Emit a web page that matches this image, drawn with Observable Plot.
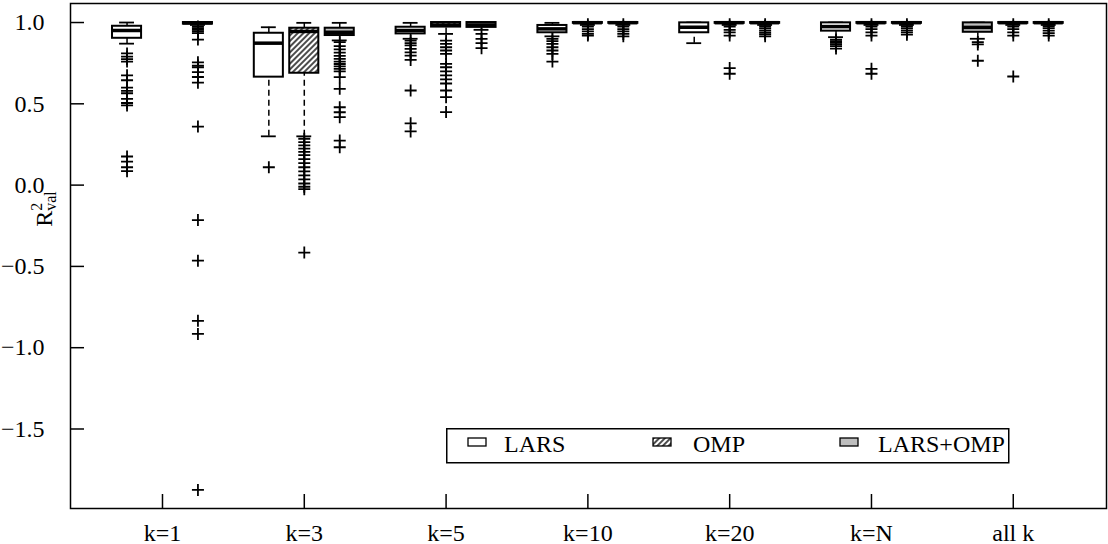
<!DOCTYPE html>
<html><head><meta charset="utf-8">
<script src="https://cdn.jsdelivr.net/npm/d3@7"></script>
<script src="https://cdn.jsdelivr.net/npm/@observablehq/plot@0.6"></script>
<style>
html,body{margin:0;padding:0;background:#fff;}
#wrap{position:relative;width:1108px;height:544px;font-family:'Liberation Serif','Times New Roman',serif;}
#wrap svg, #wrap svg text, #wrap svg tspan{font-family:'Liberation Serif','Times New Roman',serif !important;}
#legend{position:absolute;left:446px;top:428px;}
</style></head><body>
<svg width="0" height="0" style="position:absolute">
<defs><pattern id="hatch" patternUnits="userSpaceOnUse" width="4" height="4" patternTransform="rotate(45)">
<rect width="4" height="4" fill="white"/><line x1="2" y1="0" x2="2" y2="4" stroke="black" stroke-width="1.4"/></pattern></defs></svg>
<div id="wrap"></div>
<script>
// ---- data ----
const groups = ["k=1","k=3","k=5","k=10","k=20","k=N","all k"];
const methods = ["LARS","OMP","LARS+OMP"];
const yTicks = [1.0, 0.5, 0.0, -0.5, -1.0, -1.5];

const boxGroup  = ["k=1","k=1","k=3","k=3","k=3","k=5","k=5","k=5","k=10","k=10","k=10","k=20","k=20","k=20","k=N","k=N","k=N","all k","all k","all k"];
const boxMethod = ["LARS","LARS+OMP","LARS","OMP","LARS+OMP","LARS","OMP","LARS+OMP","LARS","OMP","LARS+OMP","LARS","OMP","LARS+OMP","LARS","OMP","LARS+OMP","LARS","OMP","LARS+OMP"];
const wLow   = [0.870,0.985,0.300,0.300,0.890,0.900,0.930,0.955,0.915,0.985,0.985,0.873,0.985,0.985,0.910,0.985,0.985,0.900,0.985,0.985];
const q1     = [0.903,0.990,0.664,0.688,0.920,0.930,0.972,0.970,0.937,0.995,0.995,0.937,0.995,0.995,0.947,0.995,0.995,0.940,0.995,0.995];
const median = [0.951,0.998,0.873,0.945,0.940,0.951,0.985,0.985,0.961,0.999,0.999,0.971,0.999,0.999,0.975,0.999,0.999,0.970,0.999,0.999];
const q3     = [0.977,1.000,0.934,0.965,0.965,0.971,1.000,1.000,0.982,1.000,1.000,0.998,1.000,1.000,0.998,1.000,1.000,0.998,1.000,1.000];
const wHigh  = [1.000,1.000,0.971,0.998,0.998,0.998,1.000,1.000,0.998,1.000,1.000,1.000,1.000,1.000,1.000,1.000,1.000,1.000,1.000,1.000];
const outliers = [
  [0.81,0.79,0.775,0.76,0.675,0.645,0.60,0.58,0.565,0.53,0.505,0.49,0.176,0.145,0.11,0.086],
  [0.975,0.965,0.955,0.945,0.935,0.895,0.755,0.735,0.725,0.695,0.665,0.63,0.36,-0.215,-0.465,-0.835,-0.915,-1.875],
  [0.11],
  [0.285,0.265,0.245,0.225,0.205,0.185,0.16,0.135,0.11,0.085,0.06,0.035,0.01,-0.01,-0.025,-0.415],
  [0.879,0.855,0.835,0.815,0.795,0.776,0.76,0.745,0.73,0.715,0.70,0.664,0.592,0.479,0.448,0.418,0.274,0.233],
  [0.889,0.873,0.859,0.838,0.817,0.797,0.77,0.582,0.38,0.33],
  [0.889,0.869,0.848,0.828,0.807,0.746,0.725,0.70,0.675,0.65,0.625,0.582,0.541,0.449],
  [0.93,0.90,0.873,0.842],
  [0.90,0.885,0.869,0.848,0.828,0.807,0.76],
  [0.99,0.975,0.96,0.945,0.93,0.92],
  [0.99,0.975,0.96,0.945,0.93,0.915],
  [],
  [0.99,0.975,0.955,0.94,0.92,0.72,0.685],
  [0.99,0.978,0.965,0.952,0.94,0.928,0.915],
  [0.895,0.885,0.875,0.865,0.855,0.84],
  [0.99,0.975,0.96,0.94,0.92,0.715,0.685],
  [0.99,0.978,0.965,0.952,0.94,0.925],
  [0.88,0.865,0.765],
  [0.99,0.975,0.96,0.94,0.92,0.668],
  [0.99,0.978,0.965,0.95,0.935,0.92]
];

// ---- build tables ----
const boxes = boxGroup.map((g, i) => ({
  group: g, method: boxMethod[i],
  pos: 4 * groups.indexOf(g) + methods.indexOf(boxMethod[i]) + 1,
  wLow: wLow[i], q1: q1[i], median: median[i], q3: q3[i], wHigh: wHigh[i]
}));
const outlierRows = boxes.flatMap((b, i) => outliers[i].map(v => ({pos: b.pos, value: v})));
const groupCenters = groups.map((g, i) => 4 * i + 2);

const fillKey = d => d.method === "OMP" ? "hatch" : (d.method === "LARS+OMP" || d.group === "all k") ? "gray" : "white";

const W = 1108, H = 544, mL = 70, mR = 2, mT = 3, mB = 36;
const hw = 0.41, cw = 0.21;
const FONT = "'Liberation Serif','Times New Roman',serif";

const plusSymbol = {
  draw(ctx, size) {
    const a = Math.sqrt(size / Math.PI);
    ctx.moveTo(-a, 0); ctx.lineTo(a, 0);
    ctx.moveTo(0, -a); ctx.lineTo(0, a);
  }
};

const boxRect = (key, fill) => Plot.rect(boxes, {
  filter: d => fillKey(d) === key,
  x1: d => d.pos - hw, x2: d => d.pos + hw, y1: "q1", y2: "q3",
  fill, stroke: "black", strokeWidth: 2
});

const svg = Plot.plot({
  width: W, height: H,
  marginLeft: mL, marginRight: mR, marginTop: mT, marginBottom: mB,
  style: {fontFamily: FONT, fontSize: "24px", background: "white", color: "black", overflow: "visible"},
  x: {domain: [-0.595, 28.63]},
  y: {domain: [-1.989, 1.117]},
  marks: [
    Plot.ruleX(boxes, {x: "pos", y1: "q3", y2: "wHigh", stroke: "black", strokeWidth: 1.5, strokeDasharray: "6,4"}),
    Plot.ruleX(boxes, {x: "pos", y1: "wLow", y2: "q1", stroke: "black", strokeWidth: 1.5, strokeDasharray: "6,4"}),
    Plot.ruleY(boxes, {y: "wHigh", x1: d => d.pos - cw, x2: d => d.pos + cw, stroke: "black", strokeWidth: 1.8}),
    Plot.ruleY(boxes, {y: "wLow", x1: d => d.pos - cw, x2: d => d.pos + cw, stroke: "black", strokeWidth: 1.8}),
    Plot.dot(outlierRows, {x: "pos", y: "value", symbol: plusSymbol, r: 6, stroke: "black", strokeWidth: 1.8, fill: "none"}),
    boxRect("white", "white"),
    boxRect("hatch", "url(#hatch)"),
    boxRect("gray", "#bebebe"),
    Plot.ruleY(boxes, {y: "median", x1: d => d.pos - hw, x2: d => d.pos + hw, stroke: "black", strokeWidth: 3.5}),
    Plot.tickY(yTicks, {y: d => d, insetRight: (W - mL - mR) - 14, stroke: "black", strokeWidth: 1.5}),
    Plot.tickX(groupCenters, {x: d => d, insetTop: (H - mT - mB) - 14, stroke: "black", strokeWidth: 1.5}),
    Plot.frame({stroke: "black", strokeWidth: 1.5}),
    Plot.axisY({ticks: yTicks, tickSize: 0, tickPadding: 26, tickFormat: d3.format(".1f"), label: null, fontSize: 24}),
    Plot.axisX({ticks: groupCenters, tickSize: 0, tickPadding: 15, tickFormat: d => groups[(d - 2) / 4], label: null, fontSize: 24})
  ]
});

// y-axis title R^2_val
const t = d3.select(svg).append("text")
  .attr("transform", "translate(52,209) rotate(-90)")
  .attr("text-anchor", "middle")
  .attr("fill", "black")
  .style("font-family", FONT);
t.append("tspan").attr("font-size", 24).text("R");
t.append("tspan").attr("font-size", 16).attr("dy", -10).text("2");
t.append("tspan").attr("font-size", 16).attr("dx", -8).attr("dy", 14).text("val");

const wrap = document.getElementById("wrap");
wrap.appendChild(svg);

// legend (inside plot area, bottom right)
const legendLabels = methods;
const legendFill = {"LARS": "white", "OMP": "url(#hatch)", "LARS+OMP": "#bebebe"};
const legendSwatchX = [22, 207, 394];
const legendTextX = [58, 247, 432];
const lg = d3.create("svg").attr("id", "legend").attr("width", 564).attr("height", 36);
lg.append("rect").attr("x", 0.75).attr("y", 0.75).attr("width", 562).attr("height", 34)
  .attr("fill", "white").attr("stroke", "black").attr("stroke-width", 1.5);
legendLabels.forEach((m, i) => {
  lg.append("rect").attr("x", legendSwatchX[i]).attr("y", 10).attr("width", 18).attr("height", 8)
    .attr("fill", legendFill[m]).attr("stroke", "black").attr("stroke-width", 1.3);
  lg.append("text").attr("x", legendTextX[i]).attr("y", 24).attr("font-size", 24)
    .attr("font-family", FONT).attr("fill", "black").text(m);
});
wrap.appendChild(lg.node());
</script>
</body></html>
